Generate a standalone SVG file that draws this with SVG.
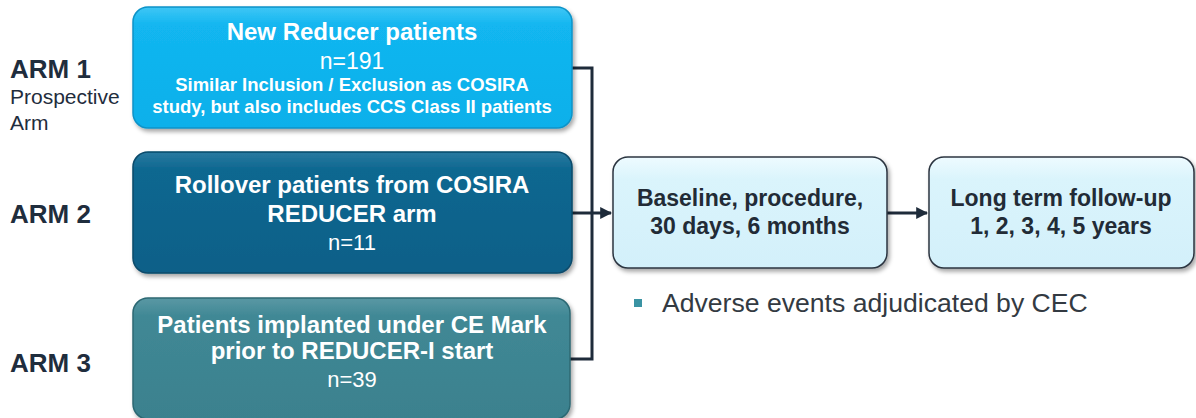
<svg xmlns="http://www.w3.org/2000/svg" width="1196" height="418" viewBox="0 0 1196 418">
<style>
.t{font-family:"Liberation Sans",Arial,sans-serif;fill:#fff;text-anchor:middle}
.b{font-weight:bold}
.arm{font-family:"Liberation Sans",Arial,sans-serif;fill:#1f2d3d}
.dk{font-family:"Liberation Sans",Arial,sans-serif;fill:#222b36;text-anchor:middle;font-weight:bold;font-size:23px}
.conn{fill:none;stroke:#1e2b3a;stroke-width:3}
</style>
<defs>
<filter id="sh" x="-5%" y="-10%" width="112%" height="125%">
<feDropShadow dx="2" dy="3" stdDeviation="2" flood-color="#000" flood-opacity="0.35"/>
</filter>
<linearGradient id="g1" x1="0" y1="0" x2="0" y2="1">
<stop offset="0" stop-color="#3fc6f5"/><stop offset="0.15" stop-color="#12b6f0"/><stop offset="1" stop-color="#0db0ea"/>
</linearGradient>
<linearGradient id="g2" x1="0" y1="0" x2="0" y2="1">
<stop offset="0" stop-color="#2a7aa0"/><stop offset="0.15" stop-color="#0c6790"/><stop offset="1" stop-color="#0a6088"/>
</linearGradient>
<linearGradient id="g3" x1="0" y1="0" x2="0" y2="1">
<stop offset="0" stop-color="#5a98a4"/><stop offset="0.15" stop-color="#408895"/><stop offset="1" stop-color="#3b818e"/>
</linearGradient>
<linearGradient id="g4" x1="0" y1="0" x2="0" y2="1">
<stop offset="0" stop-color="#eefbff"/><stop offset="0.2" stop-color="#daf4fc"/><stop offset="1" stop-color="#d3f0fa"/>
</linearGradient>
<marker id="ah" viewBox="0 0 10 10" refX="9" refY="5" markerWidth="4" markerHeight="4" orient="auto" markerUnits="strokeWidth">
<path d="M0,0 L10,5 L0,10 z" fill="#1e2b3a"/>
</marker>
</defs>

<g id="labels">
<text class="arm b" x="10" y="78" font-size="26">ARM 1</text>
<text class="arm" x="10" y="104" font-size="21">Prospective</text>
<text class="arm" x="10" y="130" font-size="21">Arm</text>
<text class="arm b" x="10" y="223" font-size="26">ARM 2</text>
<text class="arm b" x="10" y="372" font-size="26">ARM 3</text>
</g>

<g id="connectors">
<polyline class="conn" points="572,68 592,68 592,359 570,359"/>
<line class="conn" x1="572" y1="213" x2="592" y2="213"/>
<line class="conn" x1="592" y1="213" x2="611" y2="213" marker-end="url(#ah)"/>
<line class="conn" x1="887" y1="213" x2="927" y2="213" marker-end="url(#ah)"/>
</g>

<g id="arm1">
<rect x="133" y="7" width="439" height="121" rx="15" fill="url(#g1)" stroke="#0a93c8" stroke-width="1.5" filter="url(#sh)"/>
<text class="t b" x="352" y="40" font-size="24">New Reducer patients</text>
<text class="t" x="352" y="69" font-size="23">n=191</text>
<text class="t b" x="352" y="91" font-size="18.5">Similar Inclusion / Exclusion as COSIRA</text>
<text class="t b" x="352" y="113" font-size="18.5">study, but also includes CCS Class II patients</text>
</g>

<g id="arm2">
<rect x="133" y="152" width="439" height="121" rx="15" fill="url(#g2)" stroke="#084a6a" stroke-width="1.5" filter="url(#sh)"/>
<text class="t b" x="352" y="193" font-size="24">Rollover patients from COSIRA</text>
<text class="t b" x="352" y="222" font-size="24">REDUCER arm</text>
<text class="t" x="352" y="250" font-size="22">n=11</text>
</g>

<g id="arm3">
<rect x="133" y="298" width="437" height="121" rx="15" fill="url(#g3)" stroke="#2c6873" stroke-width="1.5" filter="url(#sh)"/>
<text class="t b" x="352" y="333" font-size="24">Patients implanted under CE Mark</text>
<text class="t b" x="352" y="359" font-size="24">prior to REDUCER-I start</text>
<text class="t" x="352" y="387" font-size="22">n=39</text>
</g>

<g id="baseline">
<rect x="613" y="157" width="274" height="111" rx="15" fill="url(#g4)" stroke="#2c3440" stroke-width="1.5" filter="url(#sh)"/>
<text class="dk" x="750" y="206">Baseline, procedure,</text>
<text class="dk" x="750" y="234">30 days, 6 months</text>
</g>

<g id="followup">
<rect x="929" y="157" width="265" height="111" rx="15" fill="url(#g4)" stroke="#2c3440" stroke-width="1.5" filter="url(#sh)"/>
<text class="dk" x="1061" y="206">Long term follow-up</text>
<text class="dk" x="1061" y="234">1, 2, 3, 4, 5 years</text>
</g>

<g id="note">
<rect x="634" y="299" width="8" height="8" fill="#3a93a3"/>
<text x="662" y="312" font-family="Liberation Sans, Arial, sans-serif" font-size="26.6" fill="#333a42">Adverse events adjudicated by CEC</text>
</g>
</svg>
